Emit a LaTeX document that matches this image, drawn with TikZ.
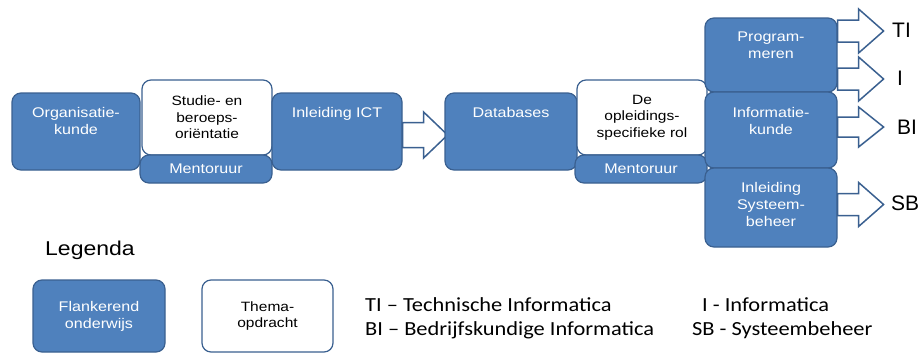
\documentclass[tikz,border=0pt]{standalone}
\usepackage{fontspec}
\setmainfont[FakeStretch=1.15]{Liberation Sans}
\newfontfamily\labfont{Liberation Sans}
\newfontfamily\legfont[FakeStretch=1.12]{Carlito}
\usetikzlibrary{positioning,calc}

\begin{document}
\begin{tikzpicture}[x=1pt, y=-1pt,
    blok/.style={draw=C1, line width=1.2pt, rounded corners=9pt, inner sep=0pt},
    flank/.style={blok, fill=C0},
    thema/.style={blok, fill=white, align=center, font=\fontsize{13.5}{16.5}\selectfont},
    mentor/.style={blok, fill=C0, text=white, font=\fontsize{14}{17}\selectfont},
    flanktxt/.style={text=white, align=center, font=\fontsize{14}{17}\selectfont, inner sep=0pt},
    pijl/.style={draw=C1, fill=white, line width=1.5pt, line join=miter},
    eind/.style={font=\labfont\fontsize{21}{24}\selectfont, anchor=west, inner sep=0pt},
    legtxt/.style={font=\legfont\fontsize{20}{22}\selectfont, anchor=west, inner sep=0pt}]
    \definecolor{C0}{HTML}{4F81BD}
    \definecolor{C1}{HTML}{3A6090}

    \useasboundingbox (0,0) rectangle (922,354);

    % eerste blok
    \node[flank, minimum width=128pt, minimum height=77pt] (org) at (76,131.5) {};
    \node[flanktxt, below=15pt of org.north] (orgt) {Organisatie-\\kunde};
    \node[thema, minimum width=130pt, minimum height=75pt] (sbo) at (207,117.5) {Studie- en\\beroeps-\\oriëntatie};
    \node[mentor, minimum width=132pt, minimum height=28pt] (men1) at (206,169) {Mentoruur};
    \node[flank, minimum width=130pt, minimum height=77pt] (ict) at (337,131.5) {};
    \node[flanktxt, below=15pt of ict.north] (ictt) {Inleiding ICT};

    \path[pijl] ($ (ict.east) + (0,3.5) $) ++(0,-12.5) -- ++(21,0) -- ++(0,-10.5) -- ++(24,23) -- ++(-24,23) -- ++(0,-10.5) -- ++(-21,0) -- cycle;

    % tweede blok
    \node[flank, minimum width=132pt, minimum height=77pt] (db) at (511,131.5) {};
    \node[flanktxt, below=15pt of db.north] (dbt) {Databases};
    \node[thema, minimum width=130pt, minimum height=75pt] (rol) at (642,117.5) {De\\opleidings-\\specifieke rol};
    \node[mentor, minimum width=132pt, minimum height=28pt] (men2) at (641,169) {Mentoruur};

    % uitstroom
    \node[flank, minimum width=132pt, minimum height=74pt] (prog) at (771,55) {};
    \node[flanktxt, below=14pt of prog.north] (progt) {Program-\\meren};
    \node[flank, minimum width=132pt, minimum height=76pt] (info) at (771,130) {};
    \node[flanktxt, below=16pt of info.north] (infot) {Informatie-\\kunde};
    \node[flank, minimum width=132pt, minimum height=79pt] (sysb) at (771,207.5) {};
    \node[flanktxt, below=15pt of sysb.north] (sysbt) {Inleiding\\Systeem-\\beheer};

    \path[pijl] ($ (prog.east) + (0,-24) $) ++(0,-11) -- ++(21,0) -- ++(0,-11) -- ++(25,22) -- ++(-25,22) -- ++(0,-11) -- ++(-21,0) -- cycle;
    \path[pijl] ($ (prog.east) + (0,24) $) ++(0,-11) -- ++(21,0) -- ++(0,-11) -- ++(25,22) -- ++(-25,22) -- ++(0,-11) -- ++(-21,0) -- cycle;
    \path[pijl] ($ (info.east) + (0,-3) $) ++(0,-10) -- ++(21,0) -- ++(0,-10) -- ++(25,20) -- ++(-25,20) -- ++(0,-10) -- ++(-21,0) -- cycle;
    \path[pijl] ($ (sysb.east) + (0,-3) $) ++(0,-11) -- ++(21,0) -- ++(0,-11) -- ++(25,22) -- ++(-25,22) -- ++(0,-11) -- ++(-21,0) -- cycle;

    \node[eind] (ti) at (892,30) {TI};
    \node[eind] (i) at (897,78) {I};
    \node[eind] (bi) at (897,127) {BI};
    \node[eind] (sb) at (891,203) {SB};

    % legenda
    \node[anchor=west, inner sep=0pt, font=\fontsize{20}{22}\selectfont] (leg) at (45,250) {Legenda};
    \node[flank, minimum width=132pt, minimum height=72pt, text=white, align=center, font=\fontsize{14}{17}\selectfont] (lflank) at (99,316) {Flankerend\\onderwijs};
    \node[thema, minimum width=131pt, minimum height=72pt] (lthema) at (267.5,316) {Thema-\\opdracht};

    \node[legtxt] (lti) at (365,305) {TI – Technische Informatica};
    \node[legtxt] (lbi) at (365,330) {BI – Bedrijfskundige Informatica};
    \node[legtxt] (li) at (702,305) {I - Informatica};
    \node[legtxt] (lsb) at (692,330) {SB - Systeembeheer};

\end{tikzpicture}
\end{document}
